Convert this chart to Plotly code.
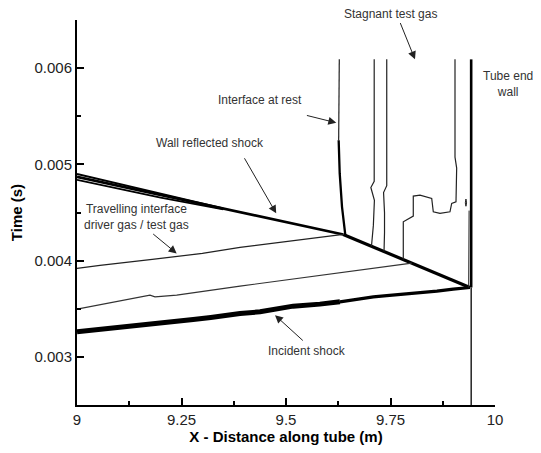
import plotly.graph_objects as go

# ---------------- data (x in m, t in s) ----------------
incident_x = [9.0, 9.06, 9.119, 9.16, 9.199, 9.24, 9.278, 9.32, 9.358, 9.39, 9.438, 9.47, 9.517, 9.581, 9.629]
incident_t = [0.003260, 0.003285, 0.003312, 0.003330, 0.003353, 0.003370, 0.003389, 0.003410, 0.003437, 0.003451, 0.003468, 0.003493, 0.003527, 0.003548, 0.003572]
incident2_x = [9.629, 9.67, 9.709, 9.741, 9.781, 9.82, 9.861, 9.90, 9.940]
incident2_t = [0.003572, 0.003600, 0.003624, 0.003636, 0.003649, 0.003668, 0.003683, 0.003703, 0.003721]

reflected_x = [9.0, 9.15, 9.30, 9.45, 9.637]
reflected_t = [0.004870, 0.004730, 0.004588, 0.004448, 0.004272]
reflected_upper_x = [9.0, 9.10, 9.20, 9.35]
reflected_upper_t = [0.004900, 0.004798, 0.004698, 0.004542]
reflected_lower_x = [9.0, 9.10, 9.20, 9.35]
reflected_lower_t = [0.004840, 0.004748, 0.004654, 0.004532]
reflected2_x = [9.637, 9.70, 9.78, 9.86, 9.940]
reflected2_t = [0.004272, 0.004157, 0.004012, 0.003867, 0.003721]

contact_x = [9.0, 9.055, 9.18, 9.30, 9.39, 9.50, 9.637]
contact_t = [0.003919, 0.003950, 0.004012, 0.004075, 0.004137, 0.004195, 0.004272]

contact2_x = [9.0, 9.1746, 9.1866, 9.2385, 9.39, 9.4935, 9.641, 9.701, 9.8007]
contact2_t = [0.003496, 0.003641, 0.003624, 0.003641, 0.003735, 0.003797, 0.003884, 0.003919, 0.003974]

rest_thin_x = [9.6275, 9.6275, 9.626]
rest_thin_t = [0.006091, 0.005600, 0.005251]
rest_thick_x = [9.626, 9.6285, 9.634, 9.642]
rest_thick_t = [0.005251, 0.004906, 0.004559, 0.004263]

line2_x = [9.711, 9.711, 9.703, 9.7115, 9.709, 9.7045]
line2_t = [0.006091, 0.004823, 0.004760, 0.004626, 0.004366, 0.004149]
line3_x = [9.741, 9.741, 9.7334, 9.7357, 9.7357, 9.7345]
line3_t = [0.006091, 0.004779, 0.004707, 0.004499, 0.004291, 0.004095]
line4_x = [9.7806, 9.7806, 9.8045, 9.8045, 9.8206, 9.8486, 9.8524, 9.8684, 9.8923, 9.8964, 9.9067, 9.9083, 9.9043, 9.9043]
line4_t = [0.004011, 0.004403, 0.004463, 0.004671, 0.004681, 0.004647, 0.004507, 0.004491, 0.004507, 0.004595, 0.004611, 0.004961, 0.005075, 0.006091]

wall_thick_x = [9.943, 9.943]
wall_thick_t = [0.003721, 0.006091]
wall_thin_x = [9.943, 9.943]
wall_thin_t = [0.0025, 0.003721]
wall_inner_x = [9.937, 9.9375, 9.938]
wall_inner_t = [0.003721, 0.004100, 0.004520]
blob_x = [9.929, 9.9305, 9.932, 9.9305, 9.929]
blob_t = [0.004600, 0.004640, 0.004600, 0.004565, 0.004600]

x_tickvals = [9, 9.25, 9.5, 9.75, 10]
x_ticktext = ["9", "9.25", "9.5", "9.75", "10"]
x_minor = [9.125, 9.375, 9.625, 9.875]
y_tickvals = [0.003, 0.004, 0.005, 0.006]
y_ticktext = ["0.003", "0.004", "0.005", "0.006"]
y_minor = [0.0025, 0.0035, 0.0045, 0.0055, 0.0065]

# label text, text position (paper), arrow tail, arrow head (data)
labels = [
    ("Stagnant test gas", 0.749, 1.0143, (9.772, 0.006484), (9.8086, 0.006091)),
    ("Interface at rest", 0.4378, 0.792, (9.5464, 0.005512), (9.6203, 0.005432)),
    ("Wall reflected shock", 0.3187, 0.681, (9.3986, 0.005079), (9.4766, 0.004491)),
    ("Incident shock", 0.5514, 0.140, (9.5438, 0.003156), (9.4737, 0.003433)),
    ("Travelling interface<br>driver gas / test gas", 0.1428, 0.489, (9.1787, 0.004289), (9.2385, 0.004075)),
    ("Tube end<br>wall", 1.031, 0.834, None, None),
]

fig = go.Figure()

def add(x, t, w, color="black"):
    fig.add_trace(go.Scatter(x=x, y=t, mode="lines", line=dict(color=color, width=w),
                             showlegend=False, hoverinfo="skip"))

add(incident_x, incident_t, 5)
add(incident2_x, incident2_t, 3.2)
add(reflected_upper_x, reflected_upper_t, 1.8)
add(reflected_lower_x, reflected_lower_t, 1.8)
add(reflected_x, reflected_t, 2.6)
add(reflected2_x, reflected2_t, 3.2)
add(contact_x, contact_t, 1.3, "#222")
add(contact2_x, contact2_t, 1.2, "#333")
add(rest_thin_x, rest_thin_t, 1.2, "#222")
add(rest_thick_x, rest_thick_t, 2.3)
add(line2_x, line2_t, 1.2, "#222")
add(line3_x, line3_t, 1.2, "#222")
add(line4_x, line4_t, 1.2, "#222")
add(wall_thick_x, wall_thick_t, 2.6)
add(wall_thin_x, wall_thin_t, 1.3)
add(wall_inner_x, wall_inner_t, 1.0, "#222")
add(blob_x, blob_t, 1.0, "#222")

for text, tx, ty, tail, head in labels:
    fig.add_annotation(x=tx, y=ty, xref="paper", yref="paper", text=text, showarrow=False,
                       font=dict(family="Liberation Sans, Arial", size=12, color="#333"),
                       align="center", xanchor="center", yanchor="middle")
    if tail is not None:
        fig.add_annotation(x=head[0], y=head[1], ax=tail[0], ay=tail[1], xref="x", yref="y",
                           axref="x", ayref="y", text="", showarrow=True, arrowhead=2,
                           arrowsize=1.6, arrowwidth=1, arrowcolor="#222")

axis_font = dict(family="Liberation Sans, Arial", size=15, color="#222")
fig.update_layout(
    width=525, height=437,
    margin=dict(l=69, r=38, t=12, b=40),
    paper_bgcolor="white", plot_bgcolor="white",
    font=axis_font,
    xaxis=dict(range=[9, 10], showgrid=False, zeroline=False, showline=True, linecolor="black",
               linewidth=2, ticks="inside", ticklen=7, tickwidth=2, tickcolor="black",
               tickvals=x_tickvals, ticktext=x_ticktext, tickfont=axis_font, automargin=False,
               minor=dict(tickvals=x_minor, ticks="inside", ticklen=4, tickwidth=1.5, tickcolor="black"),
               title=dict(text="<b>X - Distance along tube (m)</b>", standoff=6,
                          font=dict(family="Liberation Sans, Arial", size=15, color="black"))),
    yaxis=dict(range=[0.0025, 0.0065], showgrid=False, zeroline=False, showline=True, linecolor="black",
               linewidth=2, ticks="inside", ticklen=7, tickwidth=2, tickcolor="black",
               tickvals=y_tickvals, ticktext=y_ticktext, tickfont=axis_font, automargin=False,
               minor=dict(tickvals=y_minor, ticks="inside", ticklen=4, tickwidth=1.5, tickcolor="black"),
               title=dict(text="<b>Time (s)</b>", standoff=10,
                          font=dict(family="Liberation Sans, Arial", size=15, color="black"))),
)

fig.write_html("out.html")
